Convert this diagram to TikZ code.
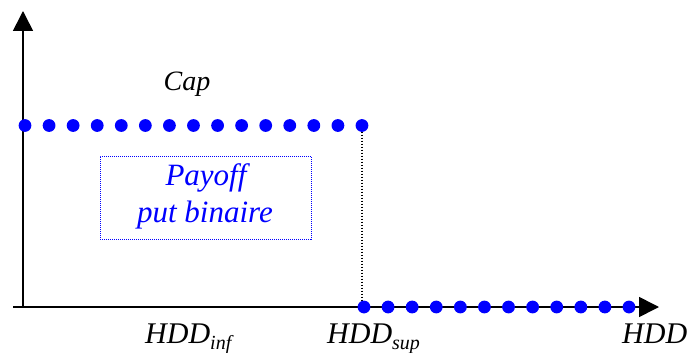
\documentclass[tikz,border=0pt]{standalone}
\usepackage{fontspec}
\setmainfont{Liberation Serif}
\usetikzlibrary{arrows.meta}
\newcommand{\fsz}[1]{\fontsize{#1}{#1}\selectfont}
\tikzset{
  axis/.style={line width=1.6pt, -{Triangle[length=20pt,width=20pt]}},
  dotnode/.style={circle, fill=blue, inner sep=0pt, minimum size=12.8pt},
  lbl/.style={inner sep=0pt, anchor=base west, font=\fsz{30}\itshape},
}
\begin{document}
\begin{tikzpicture}[x=1pt,y=-1pt]
\useasboundingbox (0,0) rectangle (691,353);
% axes
\coordinate (xs) at (13,307);
\coordinate (xt) at (659,307);
\coordinate (ys) at (23,307);
\coordinate (yt) at (23,11);
\draw[axis] (xs) -- (xt);
\draw[axis] (ys) -- (yt);
% payoff box
\node[draw=blue, dash pattern=on 1pt off 1pt, line width=1pt, minimum width=211pt, minimum height=83pt, inner sep=0pt] (box) at (205.5,197.5) {};
\node[inner sep=0pt, anchor=base, text=blue, font=\fsz{31}\itshape] (pay) at (206,185) {Payoff};
\node[inner sep=0pt, anchor=base, text=blue, font=\fsz{31}\itshape] (put) at (205,222) {put binaire};
% dots
\draw[black, dash pattern=on 1.5pt off 1.5pt, line width=1.5pt] (362,125.5) -- (362,307);
\foreach \i in {0,...,14} {
  \node[dotnode] (t\i) at ({25+\i*24.07},125.5) {};
}
\foreach \i in {0,...,11} {
  \node[dotnode] (b\i) at ({364+\i*24.09},307) {};
}
% labels
\node[inner sep=0pt, anchor=base, font=\fsz{28}\itshape] (cap) at (187,91) {Cap};
\node[lbl] (hinf) at (145,343) {HDD\raisebox{-0.2em}{\fsz{20}inf}};
\node[lbl] (hsup) at (327,343) {HDD\raisebox{-0.2em}{\fsz{20}sup}};
\node[lbl] (hdd) at (622,343) {HDD};
\end{tikzpicture}
\end{document}
